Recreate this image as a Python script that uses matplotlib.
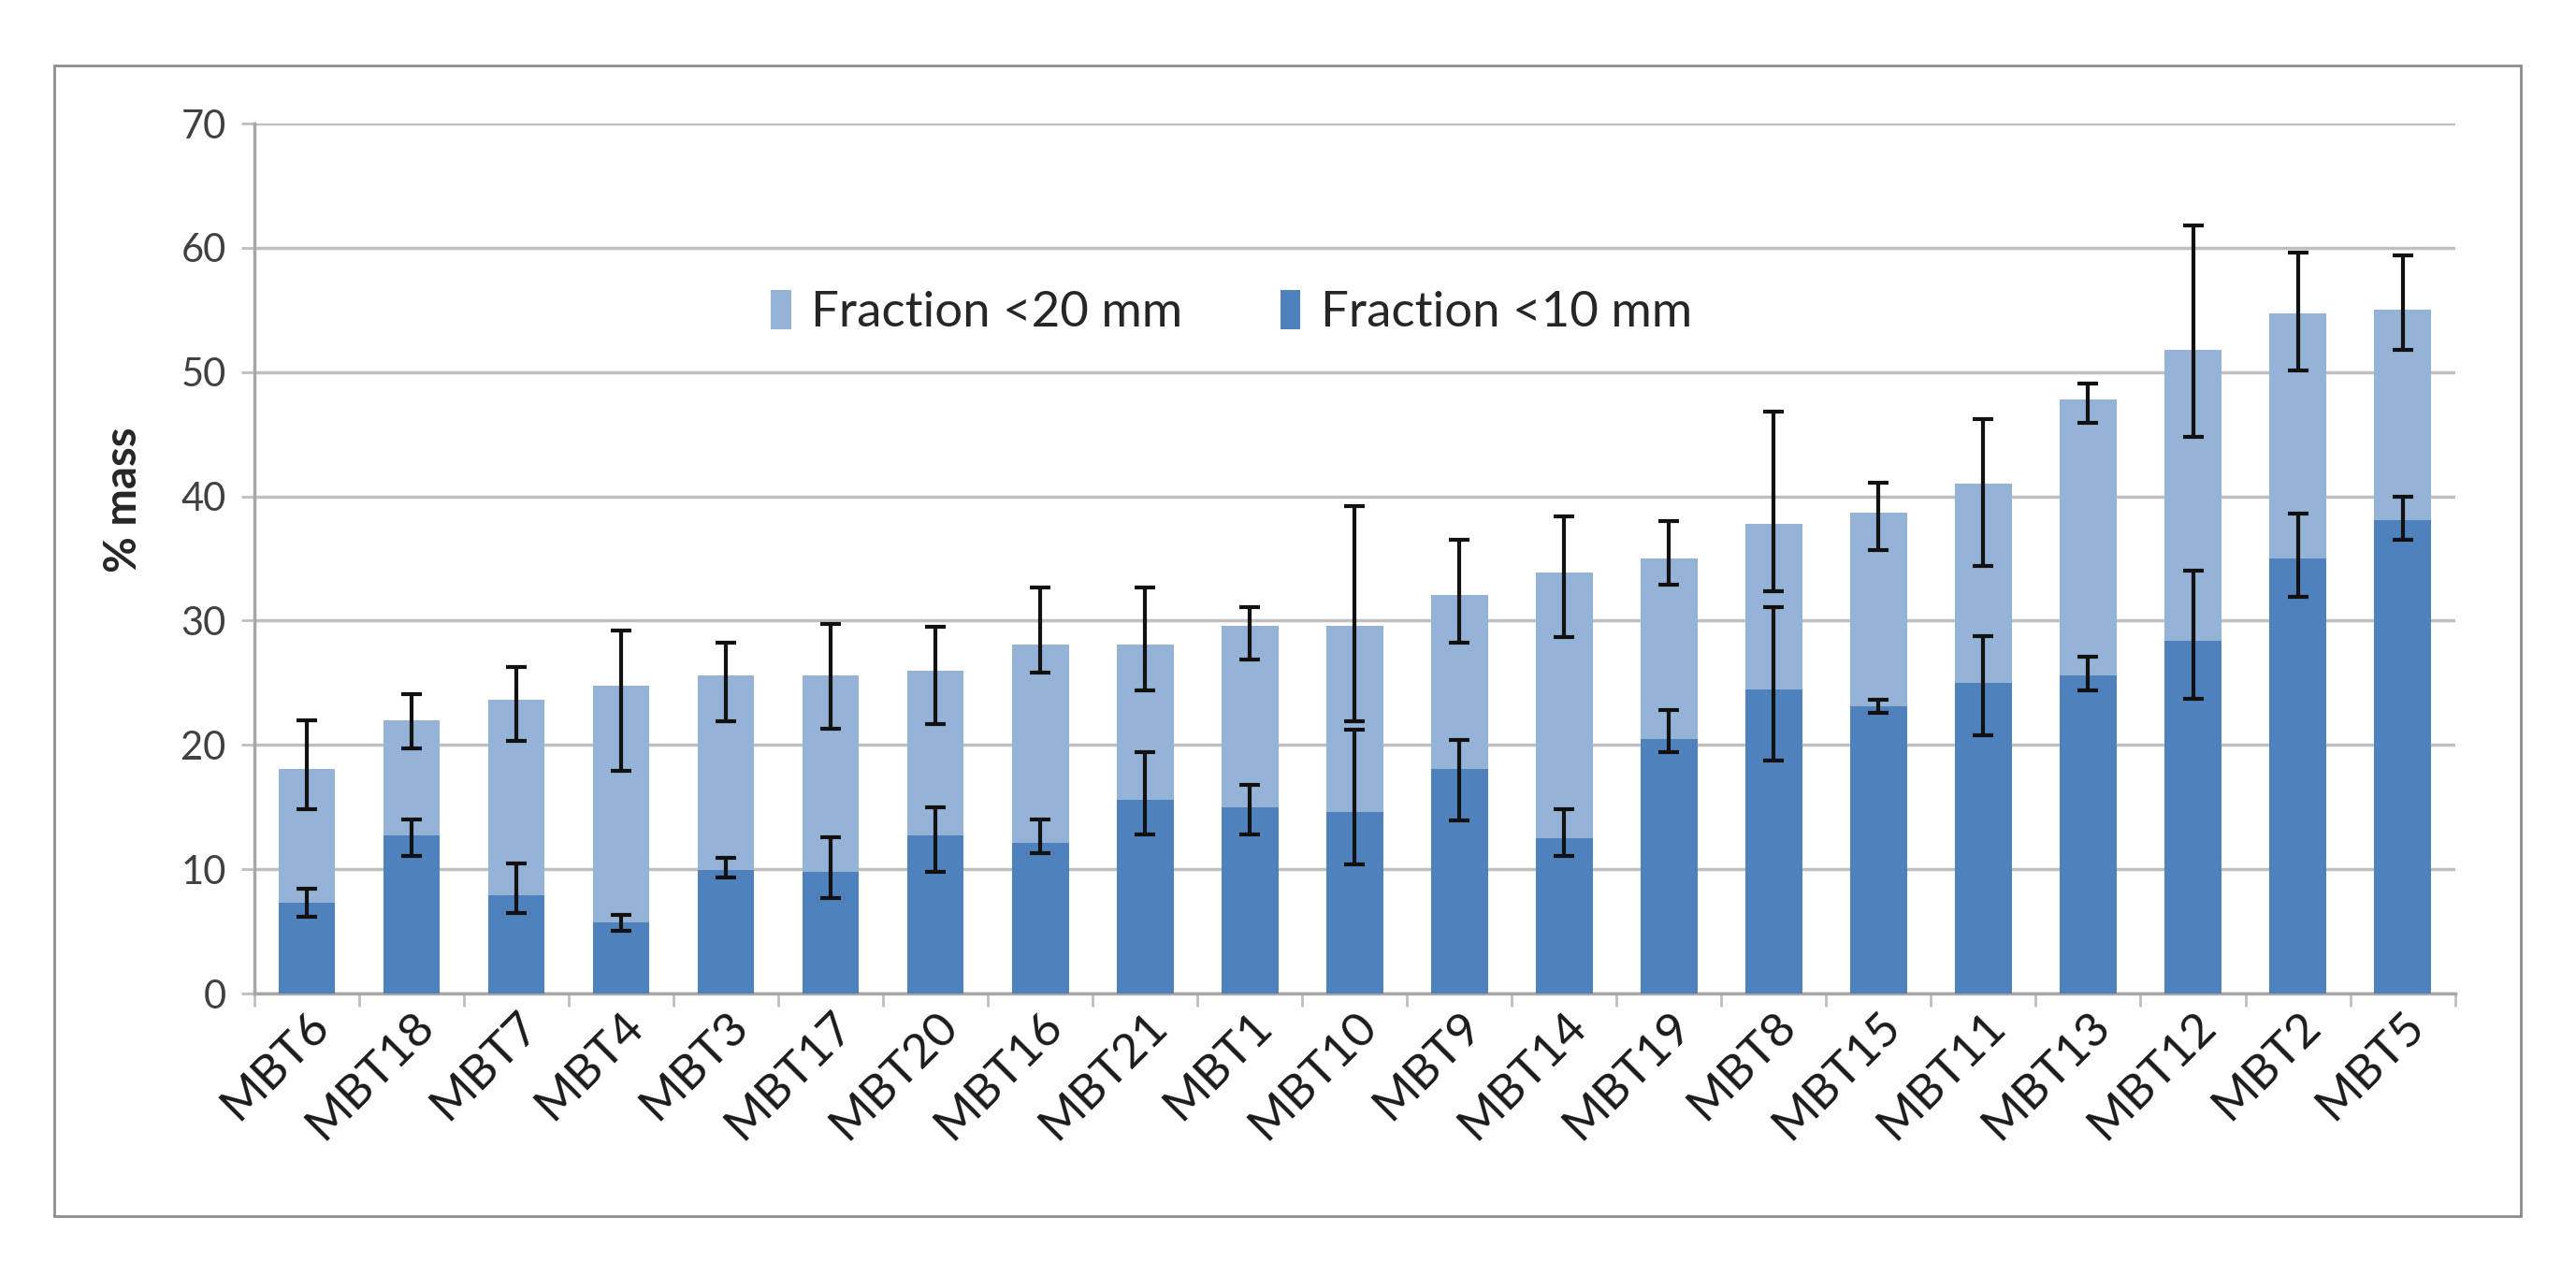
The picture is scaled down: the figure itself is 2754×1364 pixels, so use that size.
import matplotlib
matplotlib.use("Agg")
import matplotlib.pyplot as plt
import numpy as np
from matplotlib.patches import Rectangle

categories = ["MBT6", "MBT18", "MBT7", "MBT4", "MBT3", "MBT17", "MBT20", "MBT16", "MBT21",
              "MBT1", "MBT10", "MBT9", "MBT14", "MBT19", "MBT8", "MBT15", "MBT11", "MBT13",
              "MBT12", "MBT2", "MBT5"]

frac20 = [18.1, 22.0, 23.6, 24.8, 25.6, 25.6, 26.0, 28.1, 28.1, 29.6, 29.6, 32.1, 33.9,
          35.0, 37.8, 38.7, 41.0, 47.8, 51.8, 54.7, 55.0]
frac20_lo = [14.8, 19.7, 20.3, 17.9, 21.9, 21.3, 21.7, 25.8, 24.4, 26.9, 21.9, 28.2, 28.7,
             32.9, 32.4, 35.7, 34.4, 45.9, 44.8, 50.1, 51.8]
frac20_hi = [22.0, 24.1, 26.3, 29.2, 28.2, 29.7, 29.5, 32.7, 32.7, 31.1, 39.2, 36.5, 38.4,
             38.0, 46.8, 41.1, 46.25, 49.1, 61.8, 59.6, 59.4]

frac10 = [7.3, 12.7, 7.9, 5.7, 9.9, 9.8, 12.7, 12.1, 15.6, 15.0, 14.6, 18.1, 12.5,
          20.5, 24.5, 23.1, 25.0, 25.6, 28.4, 35.0, 38.1]
frac10_lo = [6.15, 11.1, 6.5, 5.05, 9.3, 7.7, 9.8, 11.3, 12.8, 12.8, 10.4, 13.9, 11.1,
             19.4, 18.75, 22.6, 20.8, 24.4, 23.7, 31.9, 36.5]
frac10_hi = [8.4, 14.0, 10.5, 6.35, 10.9, 12.6, 15.0, 14.0, 19.4, 16.8, 21.2, 20.4, 14.8,
             22.8, 31.1, 23.6, 28.75, 27.1, 34.0, 38.6, 40.0]

legend_labels = ["Fraction <20 mm", "Fraction <10 mm"]
y_ticks = [0, 10, 20, 30, 40, 50, 60, 70]

light = "#95B3D7"
dark = "#4F81BD"
grid_c = "#BFBFBF"
text_c = "#404040"

plt.rcParams["font.family"] = ["Lato", "DejaVu Sans"]

fig = plt.figure(figsize=(27.54, 13.64), dpi=100)
ax = fig.add_axes([0.0988, 0.2214, 0.8542, 0.6818])

x = np.arange(len(categories))
w = 0.54

f20 = np.array(frac20); f10 = np.array(frac10)
err20 = [f20 - np.array(frac20_lo), np.array(frac20_hi) - f20]
err10 = [f10 - np.array(frac10_lo), np.array(frac10_hi) - f10]

ax.bar(x, f20, w, color=light, label=legend_labels[0], zorder=2)
ax.bar(x, f10, w, color=dark, label=legend_labels[1], zorder=3)
ekw = dict(fmt="none", ecolor="#111111", elinewidth=3, capsize=8, capthick=3, zorder=4)
ax.errorbar(x, f20, yerr=err20, **ekw)
ax.errorbar(x, f10, yerr=err10, **ekw)

ax.set_xlim(-0.5, len(categories) - 0.5)
ax.set_ylim(0, 70)
ax.set_yticks(y_ticks)
ax.yaxis.grid(True, color=grid_c, linewidth=2.5, zorder=0)
ax.set_axisbelow(True)

ax.set_xticks(x)
ax.set_xticklabels(categories, rotation=45, ha="right", rotation_mode="anchor",
                   fontsize=37, color="#1A1A1A")
ax.set_xticks(np.arange(-0.5, len(categories) + 0.5, 1), minor=True)
ax.tick_params(axis="x", which="major", length=0, pad=8)
ax.tick_params(axis="x", which="minor", length=10, width=2, color=grid_c)
ax.tick_params(axis="y", length=10, width=2, color=grid_c, labelsize=30,
               labelcolor=text_c, pad=12)

for s in ["top", "right"]:
    ax.spines[s].set_visible(False)
for s in ["left", "bottom"]:
    ax.spines[s].set_color("#A6A6A6")
    ax.spines[s].set_linewidth(2.5)

ax.set_ylabel("% mass", fontsize=34, fontweight="bold", color="#262626", labelpad=22)
ax.yaxis.set_label_coords(-0.05, 0.568)

ax.legend(loc="center", bbox_to_anchor=(0.444, 0.783), ncol=2, frameon=False,
          fontsize=38, handlelength=0.4, handleheight=0.85, columnspacing=2.0,
          handletextpad=0.4, labelcolor="#262626")

fig.patches.append(Rectangle((58 / 2754, 1 - 1300 / 1364), (2695 - 58) / 2754, (1300 - 70) / 1364,
                             transform=fig.transFigure, fill=False, edgecolor="#8C8C8C",
                             linewidth=2))

fig.savefig("out.png", dpi=100, facecolor="white")
